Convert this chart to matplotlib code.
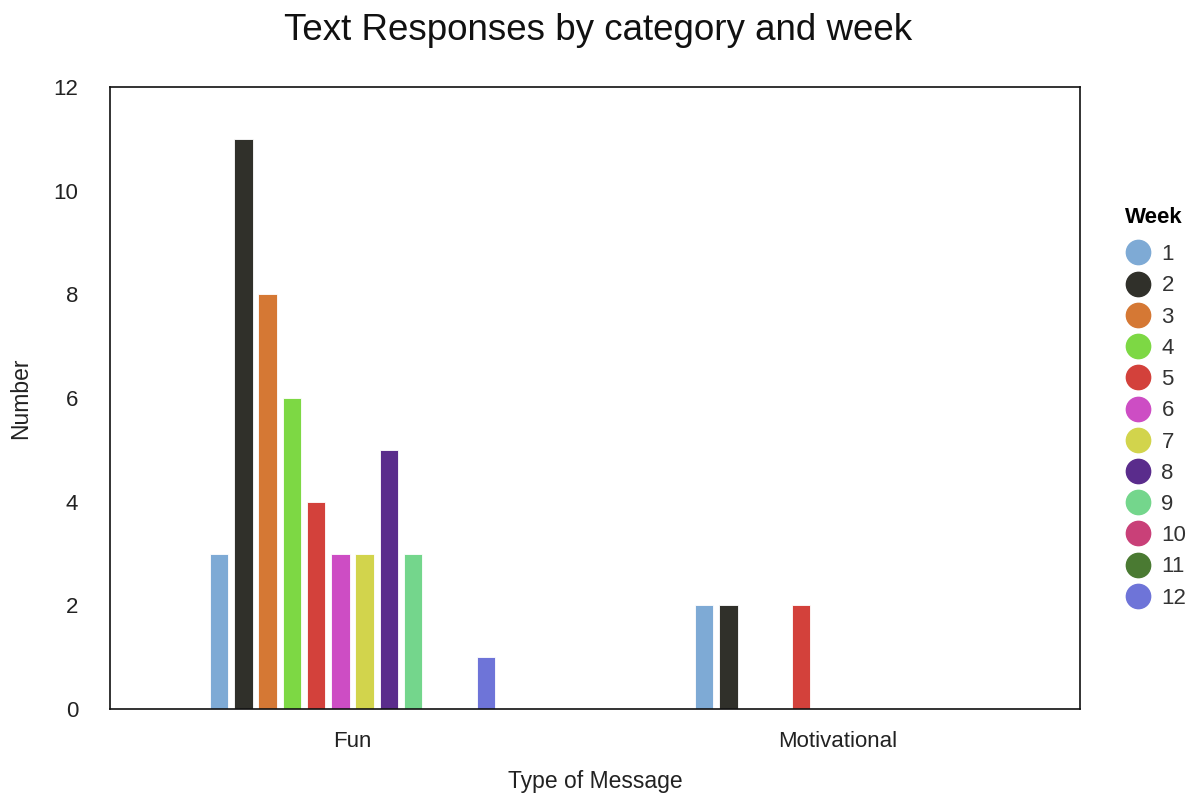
import numpy as np
import matplotlib
matplotlib.use('Agg')
import matplotlib.pyplot as plt
from matplotlib.lines import Line2D

plt.rcParams['font.family'] = ['Liberation Sans', 'DejaVu Sans']

categories = ['Fun', 'Motivational']
weeks = ['1', '2', '3', '4', '5', '6', '7', '8', '9', '10', '11', '12']
fun = [3, 11, 8, 6, 4, 3, 3, 5, 3, 0, 0, 1]
motivational = [2, 2, 0, 0, 2, 0, 0, 0, 0, 0, 0, 0]
colors = ['#7eaad5', '#30302a', '#d57834', '#7dd844', '#d3413b', '#cd4dc4',
          '#d2d44c', '#5a2c8c', '#74d68c', '#c94078', '#4a7a32', '#6e74d8']

fig = plt.figure(figsize=(11.96, 7.96), dpi=100)
ax = fig.add_axes([110 / 1196, 1 - 709 / 796, 970 / 1196, 622 / 796])

x = np.arange(len(categories))
step = 0.05
width = 0.0385
for i, w in enumerate(weeks):
    vals = [fun[i], motivational[i]]
    off = (i - (len(weeks) - 1) / 2) * step
    ax.bar(x + off, vals, width, color=colors[i], edgecolor='white',
           linewidth=0.6, label=w, zorder=2)

ax.set_xlim(-0.5, 1.5)
ax.set_ylim(0, 12)
ax.set_yticks(range(0, 13, 2))
ax.set_xticks(x)
ax.set_xticklabels(categories)
ax.tick_params(length=0, labelsize=16, colors='#222222')
ax.tick_params(axis='x', pad=16)
ax.tick_params(axis='y', pad=23)
for s in ax.spines.values():
    s.set_linewidth(1.2)
    s.set_color('#111111')

ax.set_xlabel('Type of Message', fontsize=16.5, color='#222222', labelpad=13)
ax.set_ylabel('Number', fontsize=16.5, color='#222222', labelpad=15)
fig.text(0.5, 1 - 30 / 796, 'Text Responses by category and week',
         fontsize=26.5, ha='center', va='center', color='#111111')

handles = [Line2D([], [], marker='o', linestyle='', markersize=17.5,
                  markerfacecolor=c, markeredgecolor=c) for c in colors]
leg = ax.legend(handles, weeks, title='Week', loc='upper left',
                bbox_to_anchor=(1.037, 0.822), frameon=False, fontsize=16,
                labelspacing=0.46, handlelength=1.2, handletextpad=0.45,
                borderaxespad=0,
                title_fontproperties={'weight': 'bold', 'size': 16})
leg._legend_box.align = 'left'
leg._legend_box.sep = 12
for t in leg.get_texts():
    t.set_color('#333333')

fig.savefig('out.png', dpi=100)
